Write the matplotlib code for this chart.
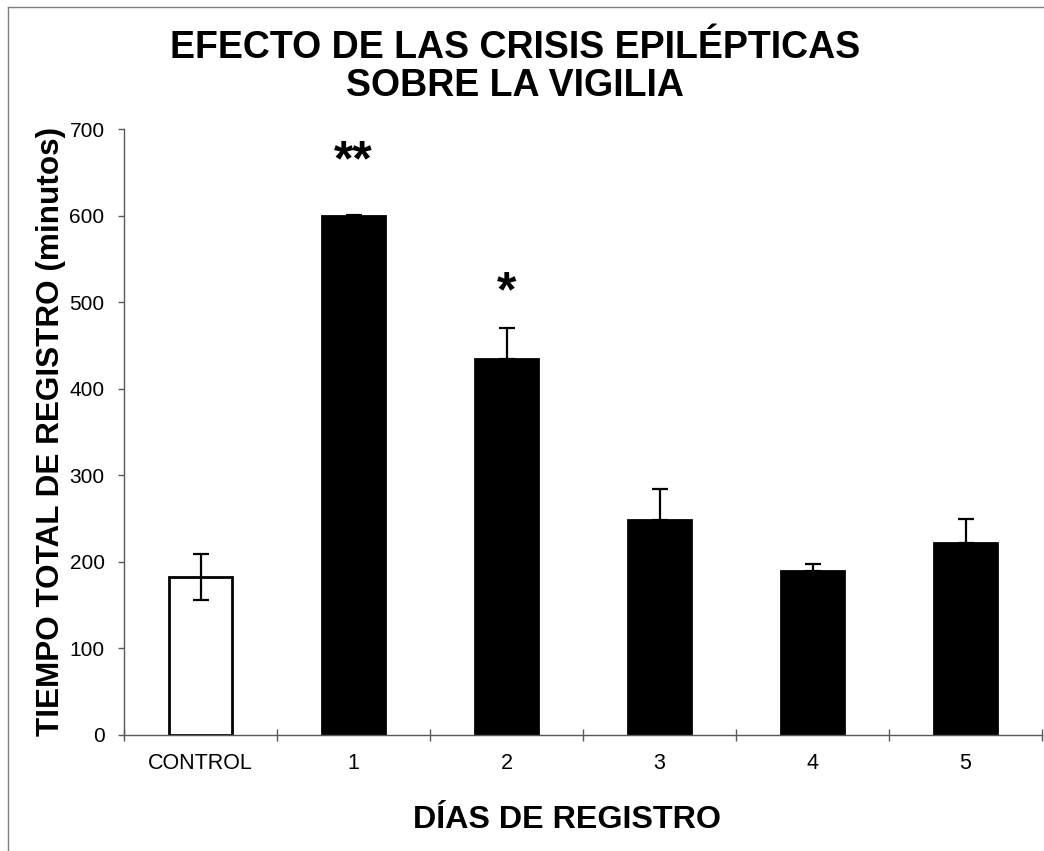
import matplotlib
matplotlib.use("Agg")
import matplotlib.pyplot as plt
from matplotlib.lines import Line2D
import numpy as np

plt.rcParams['font.family'] = ['Liberation Sans', 'DejaVu Sans']

categories = ["CONTROL", "1", "2", "3", "4", "5"]
means = [182, 600, 434, 248, 189, 222]
sems = [27, 1, 36, 36, 8, 27]
fills = ["white", "black", "black", "black", "black", "black"]
significance = ["", "**", "*", "", "", ""]
significance_y = [0, 662, 510, 0, 0, 0]
yticks = [0, 100, 200, 300, 400, 500, 600, 700]

W, H = 1044, 851
fig = plt.figure(figsize=(W / 100, H / 100), dpi=100)
ax = fig.add_axes([124 / W, 1 - 734.5 / H, (1042 - 124) / W, (734.5 - 129.3) / H])

x = np.arange(len(categories))
ax.bar(x, means, width=0.41, color=fills, edgecolor="black", linewidth=2, zorder=2)

for xi, m, s, f in zip(x, means, sems, fills):
    lower = s if f == "white" else 0
    ax.errorbar(xi, m, yerr=[[lower], [s]], fmt="none", ecolor="black",
                elinewidth=1.6, capsize=5.8, capthick=1.6, zorder=3)

for xi, label, ly in zip(x, significance, significance_y):
    if label:
        ax.text(xi, ly, label, ha="center", va="center",
                fontsize=36, fontweight="bold")

ax.set_xlim(-0.5, len(categories) - 0.5)
ax.set_ylim(0, 700)
ax.set_yticks(yticks)
ax.set_xticks(x)
ax.set_xticklabels(categories)
ax.set_xticks(np.arange(len(categories) + 1) - 0.5, minor=True)

axis_color = "#595959"
for side in ("top", "right"):
    ax.spines[side].set_visible(False)
for side in ("left", "bottom"):
    ax.spines[side].set_color(axis_color)
    ax.spines[side].set_linewidth(1.0)

ax.tick_params(axis="y", direction="out", length=4, width=1, color=axis_color,
               labelsize=15, pad=10)
ax.tick_params(axis="x", which="major", length=0, labelsize=15.5, pad=13)
ax.tick_params(axis="x", which="minor", direction="inout", length=8, width=1,
               color=axis_color)

ax.set_ylabel("TIEMPO TOTAL DE REGISTRO (minutos)", fontsize=22.7,
              fontweight="bold")
ax.yaxis.set_label_coords((66 - 124) / (1042 - 124), 0.5)

fig.text(567 / W, 1 - 820 / H, "DÍAS DE REGISTRO", ha="center", va="center",
         fontsize=23.2, fontweight="bold")
fig.text(515 / W, 1 - 67 / H, "EFECTO DE LAS CRISIS EPILÉPTICAS\nSOBRE LA VIGILIA",
         ha="center", va="center", fontsize=27, fontweight="bold",
         linespacing=1.05)

# outer chart-area border (top and left edges)
border = "#7f7f7f"
fig.add_artist(Line2D([8 / W, 1], [1 - 7.3 / H, 1 - 7.3 / H], color=border,
                      linewidth=1.0, transform=fig.transFigure))
fig.add_artist(Line2D([8 / W, 8 / W], [0, 1 - 7.3 / H], color=border,
                      linewidth=1.0, transform=fig.transFigure))

fig.savefig("out.png", dpi=100, facecolor="white")
